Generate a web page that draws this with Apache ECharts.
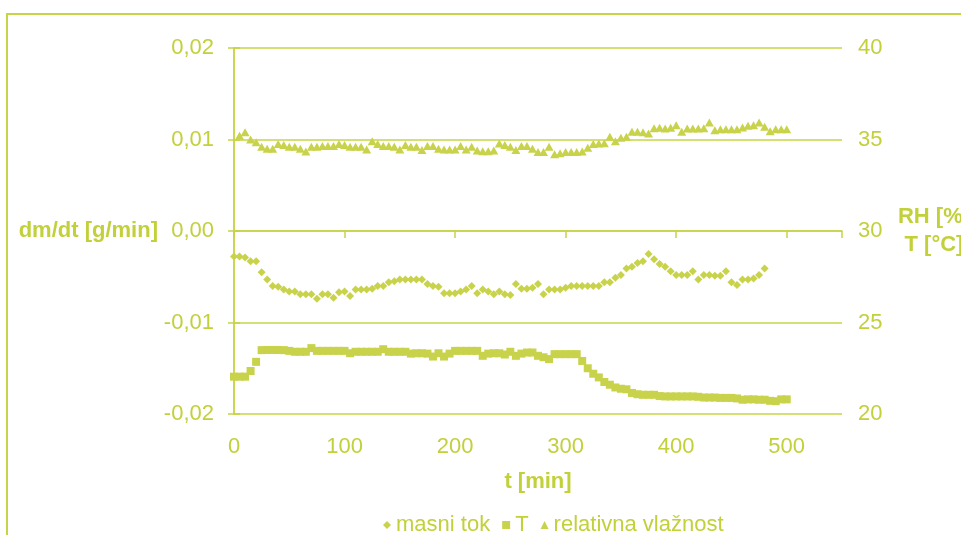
<!DOCTYPE html>
<html>
<head>
<meta charset="utf-8">
<script src="https://cdn.jsdelivr.net/npm/echarts@6/dist/echarts.min.js"></script>
<style>
  html, body { margin: 0; padding: 0; background: #fff; }
  #chart { width: 961px; height: 535px; }
</style>
</head>
<body>
<div id="chart"></div>
<script>
let textColour = "#c2d03a";
let lineColour = "#c6d446";
let markColour = "#c8d34b";

// time [min], one reading every 5 min
let times = [0, 5, 10, 15, 20, 25, 30, 35, 40, 45, 50, 55, 60, 65, 70, 75, 80, 85, 90, 95,
    100, 105, 110, 115, 120, 125, 130, 135, 140, 145, 150, 155, 160, 165, 170, 175, 180, 185, 190, 195,
    200, 205, 210, 215, 220, 225, 230, 235, 240, 245, 250, 255, 260, 265, 270, 275, 280, 285, 290, 295,
    300, 305, 310, 315, 320, 325, 330, 335, 340, 345, 350, 355, 360, 365, 370, 375, 380, 385, 390, 395,
    400, 405, 410, 415, 420, 425, 430, 435, 440, 445, 450, 455, 460, 465, 470, 475, 480, 485, 490, 495, 500];

// masni tok, dm/dt [g/min]
let masniTok = [-0.0028, -0.0028, -0.0029, -0.0033, -0.0033, -0.0045, -0.0053, -0.0060, -0.0061, -0.0064,
    -0.0066, -0.0066, -0.0069, -0.0069, -0.0069, -0.0074, -0.0069, -0.0069, -0.0073, -0.0067,
    -0.0066, -0.0071, -0.0064, -0.0064, -0.0064, -0.0063, -0.0060, -0.0060, -0.0056, -0.0055,
    -0.0053, -0.0053, -0.0053, -0.0053, -0.0053, -0.0058, -0.0060, -0.0061, -0.0068, -0.0068,
    -0.0068, -0.0066, -0.0064, -0.0060, -0.0068, -0.0064, -0.0066, -0.0069, -0.0066, -0.0069,
    -0.0070, -0.0058, -0.0063, -0.0063, -0.0062, -0.0058, -0.0069, -0.0064, -0.0064, -0.0064,
    -0.0062, -0.0060, -0.0060, -0.0060, -0.0060, -0.0060, -0.0060, -0.0056, -0.0056, -0.0051,
    -0.0048, -0.0041, -0.0039, -0.0035, -0.0033, -0.0025, -0.0031, -0.0036, -0.0039, -0.0044,
    -0.0048, -0.0048, -0.0048, -0.0044, -0.0053, -0.0048, -0.0048, -0.0049, -0.0049, -0.0044,
    -0.0056, -0.0059, -0.0053, -0.0053, -0.0052, -0.0048, -0.0041, null, null, null, null];

// T [°C]
let temperatura = [22.04, 22.04, 22.04, 22.35, 22.85, 23.49, 23.50, 23.50, 23.50, 23.49,
    23.45, 23.40, 23.40, 23.40, 23.60, 23.45, 23.45, 23.45, 23.45, 23.45,
    23.45, 23.32, 23.40, 23.40, 23.40, 23.40, 23.40, 23.54, 23.40, 23.40,
    23.40, 23.40, 23.30, 23.32, 23.32, 23.30, 23.14, 23.32, 23.14, 23.30,
    23.45, 23.45, 23.45, 23.45, 23.45, 23.18, 23.30, 23.32, 23.32, 23.25,
    23.40, 23.18, 23.30, 23.36, 23.36, 23.18, 23.10, 23.00, 23.27, 23.27,
    23.27, 23.27, 23.27, 22.90, 22.50, 22.20, 22.00, 21.75, 21.60, 21.45,
    21.38, 21.35, 21.15, 21.08, 21.05, 21.05, 21.05, 20.98, 20.96, 20.96,
    20.96, 20.96, 20.96, 20.96, 20.94, 20.90, 20.90, 20.90, 20.88, 20.88,
    20.88, 20.85, 20.78, 20.80, 20.80, 20.78, 20.78, 20.72, 20.70, 20.80, 20.80];

// relativna vlažnost [%]
let vlaznost = [null, 35.20, 35.40, 35.00, 34.85, 34.60, 34.50, 34.50, 34.75, 34.70,
    34.60, 34.60, 34.50, 34.35, 34.60, 34.60, 34.65, 34.65, 34.65, 34.75,
    34.70, 34.60, 34.60, 34.60, 34.45, 34.90, 34.75, 34.65, 34.65, 34.60,
    34.45, 34.70, 34.60, 34.60, 34.42, 34.65, 34.65, 34.50, 34.45, 34.45,
    34.45, 34.65, 34.45, 34.60, 34.40, 34.36, 34.36, 34.40, 34.78, 34.70,
    34.60, 34.42, 34.65, 34.65, 34.50, 34.32, 34.32, 34.60, 34.20, 34.25,
    34.32, 34.32, 34.32, 34.35, 34.55, 34.75, 34.78, 34.80, 35.15, 34.90,
    35.10, 35.15, 35.42, 35.42, 35.40, 35.33, 35.62, 35.64, 35.60, 35.64,
    35.78, 35.42, 35.60, 35.60, 35.60, 35.62, 35.93, 35.50, 35.56, 35.56,
    35.56, 35.56, 35.65, 35.75, 35.78, 35.93, 35.70, 35.45, 35.56, 35.56, 35.56];

function pairs(xs, ys)
{
    let out = [];
    xs.forEach((x, i) => {
        if (ys[i] !== null) out.push([x, ys[i]]);
    });
    return out;
}

let myChart = echarts.init(document.getElementById("chart"));

let font = "'Liberation Sans', Arial, sans-serif";

let option = {
    animation: false,
    textStyle: { fontFamily: font },
    grid: { left: 234, right: 119, top: 48, bottom: 121, containLabel: false, outerBoundsMode: 'none' },
    graphic: [{
        type: 'rect',
        shape: { x: 7, y: 14, width: 1000, height: 600 },
        style: { fill: null, stroke: lineColour, lineWidth: 2 },
        silent: true
    }],
    legend: {
        left: 378,
        top: 509,
        itemWidth: 8,
        itemHeight: 8,
        itemGap: 12,
        textStyle: { color: textColour, fontSize: 22, fontFamily: font },
        data: [
            { name: 'masni tok', icon: 'diamond' },
            { name: 'T', icon: 'rect' },
            { name: 'relativna vlažnost', icon: 'triangle' }
        ]
    },
    xAxis: [
        {
            type: 'value',
            min: 0,
            max: 550,
            interval: 100,
            name: 't [min]',
            nameLocation: 'middle',
            nameGap: 57,
            nameTextStyle: { color: textColour, fontSize: 22, fontWeight: 'bold', fontFamily: font },
            axisLine: { show: false },
            axisTick: { show: false },
            splitLine: { show: false },
            axisLabel: { color: textColour, fontSize: 22, margin: 22, showMaxLabel: false, fontFamily: font }
        },
        {
            type: 'value',
            min: 0,
            max: 550,
            interval: 100,
            position: 'bottom',
            axisLine: { show: true, onZero: true, onZeroAxisIndex: 0, lineStyle: { color: lineColour, width: 1.5 } },
            axisTick: { show: true, length: 7, lineStyle: { color: lineColour, width: 1.5 } },
            splitLine: { show: false },
            axisLabel: { show: false }
        }
    ],
    yAxis: [
        {
            type: 'value',
            min: -0.02,
            max: 0.02,
            interval: 0.01,
            position: 'left',
            name: 'dm/dt [g/min]',
            nameLocation: 'middle',
            nameRotate: 0,
            nameGap: 75,
            nameTextStyle: { color: textColour, fontSize: 22, fontWeight: 'bold', fontFamily: font },
            axisLine: { show: true, lineStyle: { color: lineColour, width: 1.5 } },
            axisTick: { show: true, length: 6, lineStyle: { color: lineColour, width: 1.5 } },
            splitLine: { show: true, lineStyle: { color: lineColour, width: 1.5 } },
            axisLabel: {
                color: textColour,
                fontSize: 22,
                margin: 20,
                fontFamily: font,
                formatter: function (v) {
                    if (Math.abs(v) < 1e-9) return '0,00';
                    return v.toFixed(2).replace('.', ',');
                }
            }
        },
        {
            type: 'value',
            min: 20,
            max: 40,
            interval: 5,
            position: 'right',
            name: 'RH [%]\nT [°C]',
            nameLocation: 'middle',
            nameRotate: 0,
            nameGap: 92,
            nameTextStyle: { color: textColour, fontSize: 22, fontWeight: 'bold', lineHeight: 28, align: 'center', fontFamily: font },
            axisLine: { show: true, lineStyle: { color: lineColour, width: 1.5 } },
            axisTick: { show: true, length: 6, lineStyle: { color: lineColour, width: 1.5 } },
            splitLine: { show: false },
            axisLabel: { color: textColour, fontSize: 22, margin: 16, fontFamily: font }
        }
    ],
    series: [
        {
            name: 'masni tok',
            type: 'scatter',
            xAxisIndex: 0,
            yAxisIndex: 0,
            symbol: 'diamond',
            symbolSize: 8,
            itemStyle: { color: markColour, opacity: 1 },
            data: pairs(times, masniTok)
        },
        {
            name: 'T',
            type: 'scatter',
            xAxisIndex: 0,
            yAxisIndex: 1,
            symbol: 'rect',
            symbolSize: 8,
            itemStyle: { color: markColour, opacity: 1 },
            data: pairs(times, temperatura)
        },
        {
            name: 'relativna vlažnost',
            type: 'scatter',
            xAxisIndex: 0,
            yAxisIndex: 1,
            symbol: 'triangle',
            symbolSize: [9, 8],
            itemStyle: { color: markColour, opacity: 1 },
            data: pairs(times, vlaznost)
        }
    ]
};

myChart.setOption(option);
</script>
</body>
</html>
